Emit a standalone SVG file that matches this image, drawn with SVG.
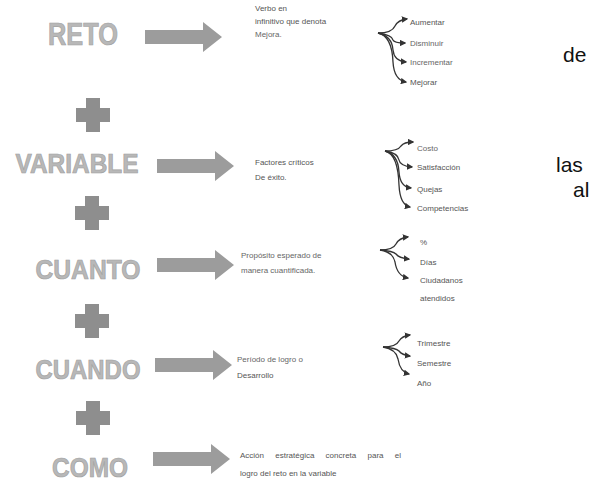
<svg xmlns="http://www.w3.org/2000/svg" width="600" height="483" viewBox="0 0 600 483">
<style>
.lbl{font-family:"Liberation Sans",Arial,sans-serif;font-weight:bold;fill:#b8b8b8;stroke:#a0a0a0;stroke-width:0.7;}
.arr{fill:#9c9c9c;}
.plus{fill:#8e8e8e;}
.t{font-family:"Liberation Sans",Arial,sans-serif;font-size:8px;fill:#555;}
.b{font-family:"Liberation Sans",Arial,sans-serif;font-size:8px;fill:#666;}
.big{font-family:"Liberation Sans",Arial,sans-serif;font-size:21px;fill:#111;}
.br{fill:none;stroke:#333;stroke-width:1.3;marker-end:url(#ah);}
</style>
<defs>
<marker id="ah" viewBox="0 0 10 10" refX="8" refY="5" markerWidth="5" markerHeight="5" orient="auto"><path d="M0,0 L10,5 L0,10 z" fill="#333"/></marker>
<path id="arrowShape" d="M0,-7 L58,-7 L58,-15 L77,0 L58,15 L58,7 L0,7 z"/>
<path id="plusShape" d="M-7,-17 L7,-17 L7,-7 L17,-7 L17,7 L7,7 L7,17 L-7,17 L-7,7 L-17,7 L-17,-7 L-7,-7 z"/>
</defs>

<g id="reto">
<text class="lbl" x="83" y="45" font-size="31" text-anchor="middle" textLength="70" lengthAdjust="spacingAndGlyphs">RETO</text>
<use href="#arrowShape" class="arr" x="145" y="37"/>
<text class="t" x="255" y="11">Verbo en</text>
<text class="t" x="255" y="24">infinitivo que denota</text>
<text class="b" x="255" y="37">Mejora.</text>
</g>
<g id="reto-items">
<text class="t" x="410" y="25">Aumentar</text>
<text class="b" x="410" y="46">Disminuir</text>
<text class="b" x="410" y="65">Incrementar</text>
<text class="t" x="410" y="85">Mejorar</text>
</g>

<g id="plus1"><use href="#plusShape" class="plus" x="93" y="115"/></g>

<g id="variable">
<text class="lbl" x="77" y="173" font-size="27" text-anchor="middle" textLength="123" lengthAdjust="spacingAndGlyphs">VARIABLE</text>
<use href="#arrowShape" class="arr" x="157" y="166"/>
<text class="t" x="255" y="165">Factores críticos</text>
<text class="t" x="255" y="180">De éxito.</text>
</g>
<g id="variable-items">
<text class="b" x="417" y="151">Costo</text>
<text class="t" x="417" y="170">Satisfacción</text>
<text class="t" x="417" y="192">Quejas</text>
<text class="t" x="417" y="211">Competencias</text>
</g>

<g id="plus2"><use href="#plusShape" class="plus" x="92" y="213"/></g>

<g id="cuanto">
<text class="lbl" x="88" y="279" font-size="27" text-anchor="middle" textLength="105" lengthAdjust="spacingAndGlyphs">CUANTO</text>
<use href="#arrowShape" class="arr" x="157" y="265"/>
<text class="b" x="241" y="258">Propósito esperado de</text>
<text class="b" x="241" y="273">manera cuantificada.</text>
</g>
<g id="cuanto-items">
<text class="t" x="420" y="245">%</text>
<text class="t" x="420" y="265">Días</text>
<text class="t" x="420" y="283">Ciudadanos</text>
<text class="t" x="420" y="301">atendidos</text>
</g>

<g id="plus3"><use href="#plusShape" class="plus" x="92" y="321"/></g>

<g id="cuando">
<text class="lbl" x="88" y="379" font-size="27" text-anchor="middle" textLength="105" lengthAdjust="spacingAndGlyphs">CUANDO</text>
<use href="#arrowShape" class="arr" x="155" y="365"/>
<text class="b" x="237" y="362">Período de logro o</text>
<text class="t" x="237" y="378">Desarrollo</text>
</g>
<g id="cuando-items">
<text class="t" x="417" y="346">Trimestre</text>
<text class="t" x="417" y="366">Semestre</text>
<text class="t" x="417" y="386">Año</text>
</g>

<g id="plus4"><use href="#plusShape" class="plus" x="93" y="418"/></g>

<g id="como">
<text class="lbl" x="90" y="477" font-size="27" text-anchor="middle" textLength="76" lengthAdjust="spacingAndGlyphs">COMO</text>
<use href="#arrowShape" class="arr" x="153" y="459"/>
<text class="t" x="240" y="458" word-spacing="9">Acción estratégica concreta para el</text>
<text class="t" x="240" y="476">logro del reto en la variable</text>
</g>

<g id="connectors">
<path class="br" d="M378,33 Q392,33 395,26 Q398,20 407,19"/>
<path class="br" d="M378,33 Q392,35 393,40 Q394,43 405,43"/>
<path class="br" d="M378,33 Q392,36 393,50 Q394,61 406,62"/>
<path class="br" d="M378,33 Q392,36 393,62 Q394,80 406,82"/>

<path class="br" d="M385,151 Q398,151 401,146 Q404,142 413,142"/>
<path class="br" d="M385,151 Q398,153 399,160 Q400,166 412,167"/>
<path class="br" d="M385,151 Q398,154 399,172 Q400,187 411,188"/>
<path class="br" d="M385,151 Q398,154 399,185 Q400,205 410,207"/>

<path class="br" d="M380,250 Q393,250 396,244 Q399,238 408,237"/>
<path class="br" d="M380,250 Q393,251 396,254 Q399,258 409,259"/>
<path class="br" d="M380,250 Q393,252 395,262 Q397,276 408,278"/>

<path class="br" d="M383,347 Q396,347 399,341 Q402,336 410,335"/>
<path class="br" d="M383,347 Q396,348 399,351 Q402,355 410,356"/>
<path class="br" d="M383,347 Q396,349 398,359 Q400,372 409,374"/>
</g>

<g id="side-text">
<text class="big" x="563" y="62">de</text>
<text class="big" x="556" y="172">las</text>
<text class="big" x="573" y="197">al</text>
</g>
</svg>
